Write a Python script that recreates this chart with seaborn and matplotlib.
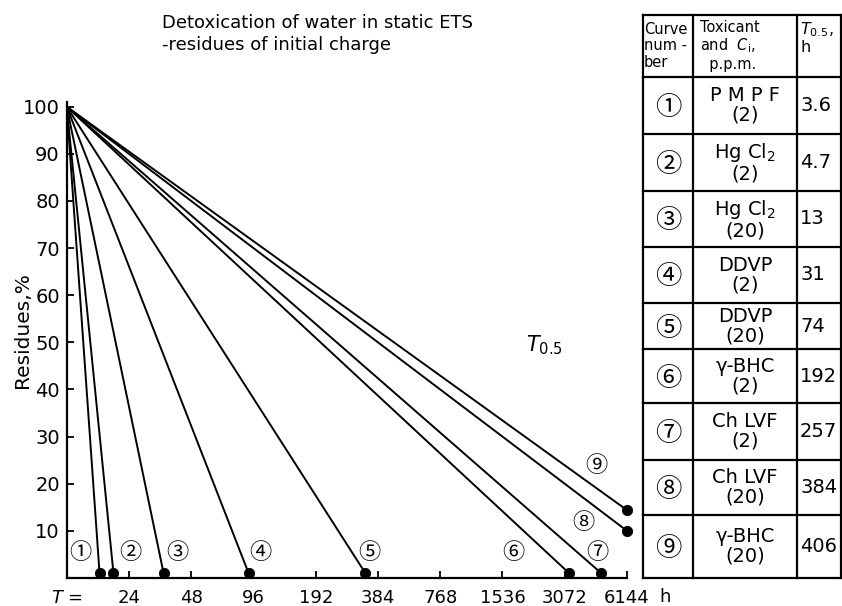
import numpy as np
import pandas as pd
import matplotlib
matplotlib.use("Agg")
import matplotlib.pyplot as plt
import seaborn as sns

# ---------------- data ----------------
curve_numbers = [1, 2, 3, 4, 5, 6, 7, 8, 9]
start_T = 12
start_residue = 100
end_T = [17.3, 20.2, 35.3, 91, 334, 3230, 4620, 6144, 6144]
end_residue = [1, 1, 1, 1, 1, 1, 1, 10, 14.4]

x_ticks = [12, 24, 48, 96, 192, 384, 768, 1536, 3072, 6144]
x_tick_labels = ["$T$ =", "24", "48", "96", "192", "384", "768", "1536", "3072", "6144"]
y_ticks = [10, 20, 30, 40, 50, 60, 70, 80, 90, 100]

circled = ["①", "②", "③", "④", "⑤", "⑥", "⑦", "⑧", "⑨"]
label_T = [14.0, 24.5, 41.3, 104, 349, 1728, 4420, 3780, 4370]
label_residue = [5.5, 5.5, 5.5, 5.5, 5.5, 5.5, 5.5, 11.7, 23.8]

toxicants = ["P M P F", "Hg Cl$_2$", "Hg Cl$_2$", "DDVP", "DDVP",
             "γ-BHC", "Ch LVF", "Ch LVF", "γ-BHC"]
concentrations = ["(2)", "(2)", "(20)", "(2)", "(20)", "(2)", "(2)", "(20)", "(20)"]
t_half = ["3.6", "4.7", "13", "31", "74", "192", "257", "384", "406"]

# ---------------- style ----------------
sns.set_style("ticks")
plt.rcParams["font.family"] = ["DejaVu Sans", "Noto Sans CJK SC"]
plt.rcParams["mathtext.fontset"] = "dejavusans"
for k in ["text.color", "axes.labelcolor", "xtick.color", "ytick.color", "axes.edgecolor"]:
    plt.rcParams[k] = "black"

W, H = 842, 606
fig = plt.figure(figsize=(W / 100, H / 100), dpi=100)

ax = fig.add_axes([66.7 / W, (H - 578) / H, (627 - 66.7) / W, (578 - 102) / H])
ax.set_xscale("log", base=2)

rows = []
for c, t, r in zip(curve_numbers, end_T, end_residue):
    rows.append({"curve": c, "T": start_T, "residue": start_residue})
    rows.append({"curve": c, "T": t, "residue": r})
df = pd.DataFrame(rows)
ends = pd.DataFrame({"curve": curve_numbers, "T": end_T, "residue": end_residue})

sns.lineplot(data=df, x="T", y="residue", units="curve", estimator=None,
             color="black", linewidth=1.4, ax=ax, legend=False, sort=False)
sns.scatterplot(data=ends, x="T", y="residue", color="black", s=55,
                edgecolor="black", ax=ax, clip_on=False, zorder=5, legend=False)

ax.set_xlim(12, 6144)
ax.set_ylim(0, 101)
ax.set_xticks(x_ticks)
ax.set_xticklabels(x_tick_labels)
ax.xaxis.set_minor_locator(matplotlib.ticker.NullLocator())
ax.set_yticks(y_ticks)
ax.tick_params(axis="both", direction="in", length=5, width=1.3, colors="black")
ax.tick_params(axis="x", labelsize=13, pad=8)
ax.tick_params(axis="y", labelsize=14, pad=5)
for s in ["top", "right"]:
    ax.spines[s].set_visible(False)
for s in ["left", "bottom"]:
    ax.spines[s].set_linewidth(1.6)
    ax.spines[s].set_color("black")
ax.set_xlabel("")
ax.set_ylabel("Residues,%", fontsize=14.5)
ax.yaxis.set_label_coords(-0.062, 0.52)

ax.annotate("h", xy=(6144, 0), xycoords="data", xytext=(38, -19),
            textcoords="offset pixels", ha="center", va="center", fontsize=13)

for lab, t, r in zip(circled, label_T, label_residue):
    ax.text(t, r, lab, ha="center", va="center", fontsize=16,
            family=["Noto Sans CJK SC", "DejaVu Sans"])

ax.text(2460, 49.5, "$T_{0.5}$", ha="center", va="center", fontsize=15)

fig.text(162 / W, 1 - 14 / H,
         "Detoxication of water in static ETS\n-residues of initial charge",
         ha="left", va="top", fontsize=13, linespacing=1.3)

# ---------------- table ----------------
tax = fig.add_axes([0, 0, 1, 1], facecolor="none")
tax.set_xlim(0, W)
tax.set_ylim(H, 0)
tax.axis("off")

row_edges = [15, 77, 134, 191, 247, 303, 349, 403, 460, 515, 578]
col_edges = [643, 693, 797, 841]
for y in row_edges:
    tax.plot([col_edges[0], col_edges[-1]], [y, y], color="black", lw=1.6,
             solid_capstyle="projecting")
for x in col_edges:
    tax.plot([x, x], [row_edges[0], row_edges[-1]], color="black", lw=1.6,
             solid_capstyle="projecting")

hy = (row_edges[0] + row_edges[1]) / 2
tax.text(644, hy, "Curve\nnum -\nber", ha="left", va="center", fontsize=10.5,
         linespacing=1.1)
tax.text(700, hy, "Toxicant\nand  $C_{\\mathrm{i}}$,\n  p.p.m.", ha="left",
         va="center", fontsize=10.5, linespacing=1.1)
tax.text(800, hy - 8, "$T_{0.5}$,\nh", ha="left", va="center", fontsize=11.5,
         linespacing=1.1)

for i in range(len(curve_numbers)):
    cy = (row_edges[i + 1] + row_edges[i + 2]) / 2
    tax.text((col_edges[0] + col_edges[1]) / 2, cy + 2, circled[i], ha="center",
             va="center", fontsize=19, family=["Noto Sans CJK SC", "DejaVu Sans"])
    tax.text((col_edges[1] + col_edges[2]) / 2, cy,
             toxicants[i] + "\n" + concentrations[i], ha="center", va="center",
             fontsize=14, linespacing=1.05)
    tax.text(800, cy, t_half[i], ha="left", va="center", fontsize=14)

fig.savefig("out.png", dpi=100)
